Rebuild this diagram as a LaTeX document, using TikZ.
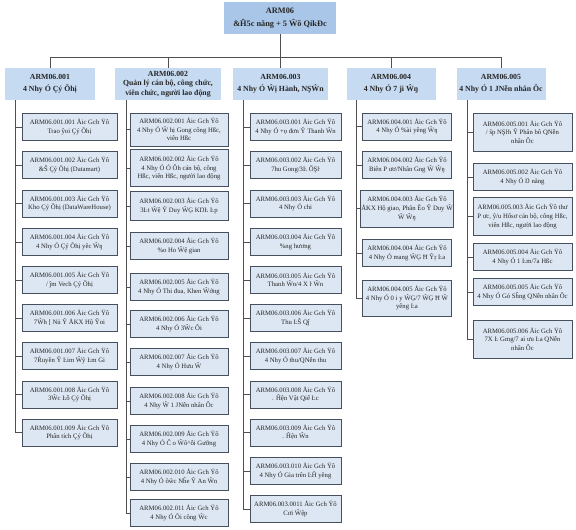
\documentclass[tikz,border=0pt]{standalone}
\usepackage{fontspec}
\setmainfont{Liberation Serif}
\definecolor{topfill}{HTML}{A9C6E8}
\definecolor{lvfill}{HTML}{C6DAF1}
\definecolor{chfill}{HTML}{DDE7F3}
\definecolor{chline}{HTML}{46505E}
\definecolor{conn}{HTML}{505050}
\definecolor{txt}{HTML}{262626}
\begin{document}
\begin{tikzpicture}[x=1pt,y=-1pt,
  topbox/.style={fill=topfill,align=center,text=txt,inner sep=1pt,
    font=\bfseries\fontsize{8.3}{12.5}\selectfont},
  lvbox/.style={fill=lvfill,align=center,text=txt,inner sep=1pt,minimum height=32pt,
    font=\bfseries\fontsize{7.8}{12}\selectfont},
  chbox/.style={draw=chline,fill=chfill,line width=0.8pt,align=center,text=txt,inner sep=1pt,
    minimum height=27pt,font=\fontsize{6.7}{8.6}\selectfont},
  cA/.style={chbox,minimum width=95pt},
  cB/.style={chbox,minimum width=98pt},
  cC/.style={chbox,minimum width=91pt},
  cD/.style={chbox,minimum width=89pt},
  cE/.style={chbox,minimum width=99pt},
  link/.style={draw=conn,line width=0.9pt}]
\useasboundingbox (0,0) rectangle (576,530);
\fill[white] (0,0) rectangle (576,530);

% top
\node[topbox,minimum width=112pt,minimum height=32pt] (top) at (280,18) {ARM06\\\&Ĥ5c năng + 5 Ŵõ QikĐc};

% level 2
\node[lvbox,minimum width=90pt] (L1) at (50,84) {ARM06.001\\4 Nhy Ó Çý Õhị};
\node[lvbox,minimum width=106pt,font=\bfseries\fontsize{7.8}{9.6}\selectfont] (L2) at (168,84) {ARM06.002\\Quản lý cán bộ, công chức,\\viên chức, người lao động};
\node[lvbox,minimum width=95pt] (L3) at (280.5,84) {ARM06.003\\4 Nhy Ó Ŵị Hành, NŞŴn};
\node[lvbox,minimum width=89pt] (L4) at (391,84) {ARM06.004\\4 Nhy Ó 7 ji Ŵŋ};
\node[lvbox,minimum width=89pt] (L5) at (501,84) {ARM06.005\\4 Nhy Ó 1 JNễn nhân Ôc};

\coordinate (bus) at (0,57);
\draw[link] (top.south) -- (top.south |- bus);
\draw[link] (L1.north |- bus) -- (L5.north |- bus);
\foreach \n in {L1,L2,L3,L4,L5} \draw[link] (\n.north |- bus) -- (\n.north);

% spines
\coordinate (s1) at (15,0);
\coordinate (s2) at (126,0);
\coordinate (s3) at (243,0);
\coordinate (s4) at (356,0);
\coordinate (s5) at (467,0);

% column 1
\node[cA] (a1) at (69.5,127) {ARM06.001.001 Åic Gch Ÿô\\Trao ŷoi Çý Õhị};
\node[cA] (a2) at (69.5,165) {ARM06.001.002 Åic Gch Ÿô\\\&Ŝ Çý Õhị (Datamart)};
\node[cA] (a3) at (69.5,203.5) {ARM06.001.003 Åic Gch Ÿô\\Kho Çý Õhị (DataWareHouse)};
\node[cA] (a4) at (69.5,242) {ARM06.001.004 Åic Gch Ÿô\\4 Nhy Ó Çý Õhị yêc Ŵŋ};
\node[cA] (a5) at (69.5,280) {ARM06.001.005 Åic Gch Ÿô\\/ ĵm Vech Çý Õhị};
\node[cA] (a6) at (69.5,318) {ARM06.001.006 Åic Gch Ÿô\\7Ŵh [ Nủ Ŷ ÅKX Hộ Ŷoi};
\node[cA] (a7) at (69.5,356) {ARM06.001.007 Åic Gch Ÿô\\7Ŕuyền Ŷ Ŀim Ŵỹ Ŀm Gi};
\node[cA] (a8) at (69.5,394.5) {ARM06.001.008 Åic Gch Ÿô\\3Ŵc Ŀỗ Çý Õhị};
\node[cA] (a9) at (69.5,432.5) {ARM06.001.009 Åic Gch Ÿô\\Phân tích Çý Õhị};
\draw[link] (L1.south -| s1) -- (a9.west -| s1);
\foreach \i in {1,...,9} \draw[link] (a\i.west -| s1) -- (a\i.west);

% column 2
\node[cB,minimum height=33pt] (b1) at (179,129.5) {ARM06.002.001 Åic Gch Ÿô\\4 Nhy Ó Ŵ hị Gong công Hßc,\\viên Hßc};
\node[cB,minimum height=37pt] (b2) at (179,168) {ARM06.002.002 Åic Gch Ÿô\\4 Nhy Ó Ó Ôh cán bộ, công\\Hßc, viên Hßc, người lao động};
\node[cB,minimum height=29pt] (b3) at (179,206) {ARM06.002.003 Åic Gch Ÿô\\3Ŀt Ŵệ Ŷ Duy ŴĢ KŊĿ Ŀp};
\node[cB] (b4) at (179,246) {ARM06.002.004 Åic Gch Ÿô\\\%o Ho Ŵệ gian};
\node[cB] (b5) at (179,287) {ARM06.002.005 Åic Gch Ÿô\\4 Nhy Ó Thi đua, Khen Ŵởng};
\node[cB] (b6) at (179,324) {ARM06.002.006 Åic Gch Ÿô\\4 Nhy Ó 3Ŵc Ôi};
\node[cB] (b7) at (179,362) {ARM06.002.007 Åic Gch Ÿô\\4 Nhy Ó Hưu Ŵ};
\node[cB] (b8) at (179,401) {ARM06.002.008 Åic Gch Ÿô\\4 Nhy Ŵ 1 JNễn nhân Ôc};
\node[cB] (b9) at (179,439) {ARM06.002.009 Åic Gch Ÿô\\4 Nhy Ó Ĉ o Ŵô\^{}ỗi Gưỡng};
\node[cB] (b10) at (179,477) {ARM06.002.010 Åic Gch Ÿô\\4 Nhy Ó ôŵc Nĥe Ŷ An Ŵn};
\node[cB] (b11) at (179,513) {ARM06.002.011 Åic Gch Ÿô\\4 Nhy Ó Ôi công Ŵc};
\draw[link] (L2.south -| s2) -- (b11.west -| s2);
\foreach \i in {1,...,11} \draw[link] (b\i.west -| s2) -- (b\i.west);

% column 3
\node[cC] (c1) at (295.5,127) {ARM06.003.001 Åic Gch Ÿô\\4 Nhy Ó +ọ đơn Ŷ Thanh Ŵn};
\node[cC] (c2) at (295.5,165) {ARM06.003.002 Åic Gch Ÿô\\7hu Gong/3Ŀ ŐŞŀ};
\node[cC] (c3) at (295.5,203.5) {ARM06.003.003 Åic Gch Ÿô\\4 Nhy Ó chi};
\node[cC] (c4) at (295.5,242) {ARM06.003.004 Åic Gch Ÿô\\\%ng hương};
\node[cC] (c5) at (295.5,280) {ARM06.003.005 Åic Gch Ÿô\\Thanh Ŵn/4 X ŀ Ŵn};
\node[cC] (c6) at (295.5,318) {ARM06.003.006 Åic Gch Ÿô\\Thu ĿŜ Qĵ};
\node[cC] (c7) at (295.5,356) {ARM06.003.007 Åic Gch Ÿô\\4 Nhy Ó thu/QNễn thu};
\node[cC] (c8) at (295.5,394.5) {ARM06.003.008 Åic Gch Ÿô\\. Ĥện Vật Qiể Ŀc};
\node[cC] (c9) at (295.5,432.5) {ARM06.003.009 Åic Gch Ÿô\\. Ĥện Ŵn};
\node[cC] (c10) at (295.5,471) {ARM06.003.010 Åic Gch Ÿô\\4 Nhy Ó Gia trên ĿĤ yêng};
\node[cC] (c11) at (295.5,509) {ARM06.003.0011 Åic Gch Ÿô\\Cơi Ŵệp};
\draw[link] (L3.south -| s3) -- (c11.west -| s3);
\foreach \i in {1,...,11} \draw[link] (c\i.west -| s3) -- (c\i.west);

% column 4
\node[cD] (d1) at (407,126.5) {ARM06.004.001 Åic Gch Ÿô\\4 Nhy Ó \%ài yêng Ŵŋ};
\node[cD] (d2) at (407,165) {ARM06.004.002 Åic Gch Ÿô\\Biên P ươ/Nhân Gng Ŵ Ŵŋ};
\node[cD,minimum height=37pt] (d3) at (407,208.5) {ARM06.004.003 Åic Gch Ÿô\\ÅKX Hộ giao, Phân Ĕo Ŷ Duy Ŵ\\Ŵ Ŵŋ};
\node[cD] (d4) at (407,253) {ARM06.004.004 Åic Gch Ÿô\\4 Nhy Ó mang ŴĢ Ħ Ŷŗ Ŀa};
\node[cD,minimum height=36pt] (d5) at (407,298) {ARM06.004.005 Åic Gch Ÿô\\4 Nhy Ó 0 i y ŴĢ/7 ŴĢ Ħ Ŵ\\yêng Ŀa};
\draw[link] (L4.south -| s4) -- (d5.west -| s4);
\foreach \i in {1,...,5} \draw[link] (d\i.west -| s4) -- (d\i.west);

% column 5
\node[cE,minimum height=38pt] (e1) at (522.5,132) {ARM06.005.001 Åic Gch Ÿô\\/ ŝp NŞŀh Ŷ Phân bô QNễn\\nhân Ôc};
\node[cE] (e2) at (522.5,177) {ARM06.005.002 Åic Gch Ÿô\\4 Nhy Ó Ŋ năng};
\node[cE,minimum height=38pt] (e3) at (522.5,216.5) {ARM06.005.003 Åic Gch Ÿô thư\\P ưc, ŷ/u Hổsơ cán bộ, công Hßc,\\viên Hßc, người lao động};
\node[cE] (e4) at (522.5,257) {ARM06.005.004 Åic Gch Ÿô\\4 Nhy Ó 1 Ŀm/7a Hßc};
\node[cE] (e5) at (522.5,292) {ARM06.005.005 Åic Gch Ÿô\\4 Nhy Ó Gó Sĥng QNễn nhân Ôc};
\node[cE,minimum height=38pt] (e6) at (522.5,339) {ARM06.005.006 Åic Gch Ÿô\\7X Ŀ Gmg/7 ai ưu Ŀa QNễn\\nhân Ôc};
\draw[link] (L5.south -| s5) -- (e6.west -| s5);
\foreach \i in {1,...,6} \draw[link] (e\i.west -| s5) -- (e\i.west);
\end{tikzpicture}
\end{document}
